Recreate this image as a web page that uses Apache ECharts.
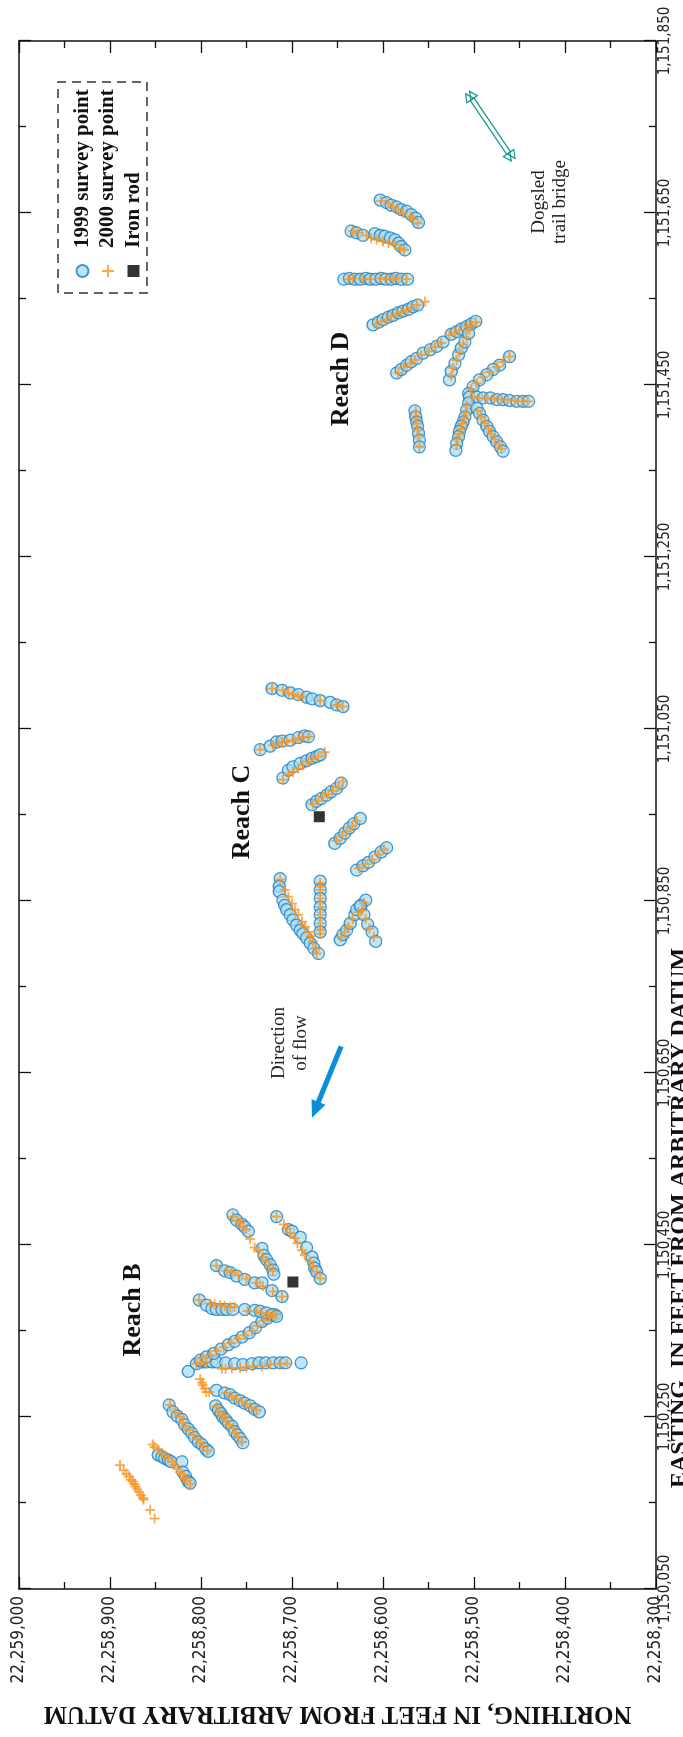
<!DOCTYPE html>
<html><head><meta charset="utf-8">
<script src="https://cdn.jsdelivr.net/npm/echarts@6/dist/echarts.min.js"></script>
<style>
html,body{margin:0;padding:0;background:#fff;overflow:hidden}
#wrap{position:relative;width:683px;height:1737px;overflow:hidden;background:#fff}
#chart{position:absolute;left:0;top:0;width:1737px;height:683px;transform-origin:0 0;transform:translate(0,1737px) rotate(-90deg)}
</style></head>
<body><div id="wrap"><div id="chart"></div></div>
<script>
// ---- DATA: [easting, northing] in feet ----
const reachB1999 = [
[1150206,22258847],[1150204,22258843],[1150202,22258840],[1150200,22258836],[1150198,22258833],[1150198,22258821],[1150186,22258820],[1150181,22258817],[1150175,22258814],[1150173,22258812],
[1150264,22258835],[1150256,22258831],[1150251,22258826],[1150247,22258821],[1150241,22258818],[1150236,22258814],[1150231,22258810],[1150226,22258807],[1150221,22258803],[1150218,22258799],[1150213,22258795],[1150210,22258792],
[1150263,22258784],[1150258,22258781],[1150254,22258778],[1150250,22258776],[1150247,22258773],[1150243,22258770],[1150239,22258766],[1150233,22258763],[1150229,22258760],[1150225,22258757],[1150220,22258754],
[1150281,22258783],[1150278,22258774],[1150276,22258768],[1150272,22258763],[1150269,22258757],[1150266,22258752],[1150263,22258746],[1150259,22258741],[1150256,22258736],
[1150303,22258814],[1150312,22258805],[1150314,22258799],[1150314,22258794],[1150314,22258788],[1150314,22258783],[1150313,22258773],[1150312,22258763],[1150311,22258754],[1150312,22258744],[1150313,22258736],[1150313,22258729],[1150313,22258721],[1150313,22258713],[1150313,22258707],[1150313,22258690],
[1150316,22258801],[1150320,22258794],[1150324,22258786],[1150329,22258778],[1150334,22258770],[1150338,22258763],[1150343,22258755],[1150348,22258747],[1150354,22258740],[1150361,22258733],[1150365,22258727],[1150369,22258719],
[1150386,22258802],[1150380,22258794],[1150376,22258788],[1150375,22258783],[1150375,22258777],[1150375,22258772],[1150375,22258765],[1150375,22258752],[1150374,22258741],[1150373,22258735],[1150371,22258728],[1150369,22258722],[1150367,22258717],
[1150426,22258783],[1150420,22258774],[1150418,22258768],[1150414,22258761],[1150410,22258752],[1150406,22258741],[1150406,22258733],[1150397,22258722],[1150390,22258711],
[1150485,22258765],[1150479,22258761],[1150474,22258755],[1150471,22258752],[1150466,22258748],[1150446,22258733],[1150438,22258731],[1150433,22258728],[1150427,22258724],[1150421,22258721],[1150416,22258720],
[1150483,22258717],[1150468,22258704],[1150466,22258700],[1150459,22258691],[1150447,22258684],[1150436,22258678],[1150429,22258676],[1150423,22258675],[1150419,22258673],[1150411,22258669]
];
const reachB2000 = [
[1150194,22258889],[1150188,22258885],[1150184,22258882],[1150181,22258879],[1150177,22258877],[1150175,22258875],[1150172,22258873],[1150169,22258872],[1150166,22258870],[1150163,22258868],[1150159,22258866],[1150156,22258864],[1150154,22258863],[1150142,22258856],[1150132,22258851],
[1150218,22258853],[1150215,22258851],[1150212,22258847],[1150208,22258843],[1150205,22258840],[1150202,22258836],[1150198,22258832],[1150194,22258829],[1150190,22258826],[1150186,22258823],[1150183,22258820],[1150179,22258818],[1150176,22258815],[1150172,22258812],
[1150264,22258834],[1150255,22258828],[1150250,22258823],[1150243,22258820],[1150239,22258817],[1150235,22258813],[1150229,22258809],[1150224,22258804],[1150220,22258801],[1150216,22258798],[1150211,22258793],
[1150262,22258783],[1150256,22258780],[1150252,22258777],[1150250,22258775],[1150245,22258772],[1150241,22258769],[1150237,22258765],[1150231,22258762],[1150227,22258759],[1150221,22258755],
[1150294,22258801],[1150290,22258799],[1150287,22258798],[1150283,22258796],[1150279,22258794],[1150279,22258791],[1150278,22258772],[1150274,22258766],[1150271,22258761],[1150268,22258755],[1150265,22258750],[1150261,22258744],[1150258,22258739],
[1150312,22258805],[1150313,22258801],[1150313,22258794],[1150306,22258777],[1150306,22258773],[1150307,22258766],[1150307,22258757],[1150308,22258750],[1150309,22258743],[1150309,22258733],[1150311,22258724],[1150312,22258713],[1150312,22258705],
[1150319,22258798],[1150322,22258790],[1150327,22258783],[1150331,22258775],[1150336,22258767],[1150341,22258759],[1150345,22258752],[1150350,22258744],[1150356,22258738],[1150362,22258731],[1150366,22258724],[1150370,22258718],
[1150386,22258802],[1150382,22258790],[1150381,22258785],[1150380,22258779],[1150379,22258774],[1150378,22258768],[1150378,22258763],[1150373,22258749],[1150373,22258739],[1150371,22258733],[1150369,22258726],[1150368,22258721],
[1150426,22258783],[1150420,22258772],[1150418,22258766],[1150415,22258759],[1150411,22258750],[1150406,22258739],[1150402,22258732],[1150396,22258721],[1150390,22258711],
[1150483,22258765],[1150478,22258760],[1150476,22258757],[1150471,22258754],[1150468,22258751],[1150457,22258746],[1150447,22258741],[1150444,22258737],[1150436,22258732],[1150431,22258729],[1150426,22258725],[1150420,22258721],
[1150483,22258717],[1150474,22258709],[1150469,22258706],[1150464,22258702],[1150458,22258697],[1150452,22258694],[1150444,22258689],[1150438,22258686],[1150431,22258680],[1150425,22258677],[1150419,22258673],[1150411,22258669]
];
const reachC1999 = [
[1151097,22258722],[1151095,22258711],[1151092,22258702],[1151090,22258693],[1151087,22258684],[1151085,22258678],[1151083,22258669],[1151081,22258658],[1151078,22258651],[1151076,22258644],
[1151026,22258735],[1151030,22258724],[1151035,22258717],[1151036,22258711],[1151037,22258702],[1151040,22258693],[1151042,22258686],[1151041,22258682],
[1150993,22258710],[1151002,22258704],[1151006,22258699],[1151010,22258691],[1151013,22258684],[1151016,22258678],[1151018,22258673],[1151020,22258669],
[1150962,22258678],[1150966,22258673],[1150969,22258668],[1150973,22258662],[1150977,22258657],[1150981,22258651],[1150987,22258646],
[1150917,22258653],[1150923,22258647],[1150929,22258642],[1150935,22258637],[1150940,22258632],[1150946,22258625],
[1150886,22258629],[1150891,22258622],[1150895,22258616],[1150901,22258609],[1150907,22258602],[1150912,22258596],
[1150805,22258647],[1150811,22258644],[1150816,22258640],[1150824,22258636],[1150834,22258631],[1150840,22258629],[1150845,22258624],[1150851,22258619],
[1150844,22258625],[1150834,22258621],[1150823,22258617],[1150814,22258612],[1150803,22258608],
[1150876,22258713],[1150867,22258714],[1150861,22258714],[1150851,22258710],[1150845,22258708],[1150840,22258706],[1150834,22258702],[1150828,22258699],[1150822,22258695],[1150816,22258691],[1150812,22258688],[1150807,22258684],[1150801,22258680],[1150795,22258676],[1150789,22258671],
[1150873,22258669],[1150863,22258669],[1150853,22258669],[1150843,22258669],[1150834,22258669],[1150824,22258669],[1150814,22258669]
];
const reachC2000 = [
[1151097,22258722],[1151095,22258710],[1151092,22258704],[1151090,22258699],[1151088,22258693],[1151087,22258688],[1151083,22258669],[1151078,22258651],[1151076,22258644],
[1151026,22258735],[1151031,22258721],[1151033,22258715],[1151035,22258711],[1151035,22258706],[1151037,22258699],[1151039,22258693],[1151040,22258688],[1151041,22258682],
[1150991,22258710],[1150997,22258704],[1151000,22258699],[1151004,22258693],[1151008,22258688],[1151012,22258682],[1151015,22258677],[1151018,22258671],[1151023,22258664],
[1150963,22258677],[1150967,22258671],[1150971,22258666],[1150974,22258660],[1150978,22258655],[1150983,22258649],[1150989,22258644],
[1150920,22258651],[1150926,22258645],[1150931,22258640],[1150937,22258634],[1150943,22258629],
[1150888,22258626],[1150893,22258619],[1150898,22258612],[1150904,22258605],[1150910,22258599],
[1150808,22258646],[1150814,22258642],[1150820,22258638],[1150829,22258633],[1150837,22258627],[1150848,22258621],
[1150839,22258623],[1150829,22258619],[1150818,22258615],[1150808,22258610],
[1150875,22258713],[1150863,22258708],[1150855,22258704],[1150847,22258700],[1150840,22258697],[1150834,22258693],[1150826,22258689],[1150820,22258686],[1150814,22258682],[1150809,22258680],[1150803,22258677],[1150795,22258674],[1150789,22258673],
[1150871,22258669],[1150867,22258669],[1150863,22258669],[1150853,22258669],[1150843,22258669],[1150834,22258669],[1150824,22258669],[1150816,22258669],[1150812,22258669]
];
const reachD1999 = [
[1151665,22258603],[1151662,22258596],[1151659,22258591],[1151657,22258585],[1151654,22258580],[1151652,22258574],[1151648,22258569],[1151644,22258564],[1151639,22258561],
[1151629,22258635],[1151627,22258629],[1151624,22258622],[1151626,22258609],[1151624,22258603],[1151623,22258598],[1151621,22258592],[1151619,22258587],[1151615,22258583],[1151611,22258580],[1151607,22258576],
[1151573,22258643],[1151574,22258637],[1151573,22258631],[1151573,22258625],[1151574,22258619],[1151573,22258614],[1151573,22258608],[1151574,22258602],[1151573,22258597],[1151573,22258591],[1151574,22258586],[1151573,22258580],[1151573,22258573],
[1151520,22258611],[1151523,22258605],[1151526,22258600],[1151529,22258594],[1151531,22258589],[1151534,22258583],[1151536,22258578],[1151538,22258572],[1151541,22258567],[1151543,22258562],
[1151464,22258585],[1151468,22258580],[1151473,22258574],[1151477,22258569],[1151481,22258563],[1151487,22258556],[1151491,22258548],[1151495,22258541],[1151500,22258534],[1151509,22258525],[1151512,22258519],[1151515,22258514],[1151518,22258508],[1151521,22258503],[1151524,22258498],
[1151456,22258527],[1151466,22258525],[1151475,22258521],[1151485,22258517],[1151493,22258514],[1151500,22258510],[1151510,22258506],
[1151483,22258461],[1151473,22258472],[1151468,22258479],[1151462,22258486],[1151456,22258494],[1151448,22258501],[1151440,22258506],
[1151436,22258505],[1151436,22258497],[1151435,22258490],[1151435,22258482],[1151433,22258475],[1151433,22258468],[1151432,22258461],[1151431,22258453],[1151431,22258446],[1151431,22258440],
[1151429,22258506],[1151421,22258508],[1151413,22258510],[1151407,22258512],[1151402,22258514],[1151396,22258516],[1151390,22258517],[1151382,22258519],[1151374,22258520],
[1151423,22258497],[1151417,22258494],[1151409,22258490],[1151402,22258486],[1151396,22258483],[1151390,22258479],[1151384,22258475],[1151378,22258471],[1151373,22258468],
[1151420,22258565],[1151413,22258564],[1151407,22258563],[1151402,22258562],[1151394,22258561],[1151386,22258560],[1151378,22258560]
];
const reachD2000 = [
[1151664,22258602],[1151661,22258594],[1151657,22258589],[1151654,22258583],[1151650,22258578],[1151646,22258570],[1151643,22258567],[1151638,22258562],
[1151629,22258633],[1151627,22258627],[1151624,22258618],[1151621,22258613],[1151619,22258607],[1151617,22258600],[1151615,22258594],[1151613,22258587],[1151609,22258581],[1151607,22258577],
[1151573,22258638],[1151574,22258633],[1151573,22258622],[1151573,22258614],[1151574,22258603],[1151573,22258596],[1151573,22258589],[1151574,22258583],[1151573,22258574],
[1151521,22258607],[1151524,22258602],[1151526,22258596],[1151530,22258591],[1151533,22258585],[1151535,22258580],[1151537,22258574],[1151540,22258569],[1151543,22258563],[1151547,22258554],
[1151464,22258583],[1151471,22258577],[1151475,22258570],[1151479,22258565],[1151485,22258558],[1151489,22258550],[1151494,22258543],[1151499,22258536],[1151508,22258527],[1151511,22258521],[1151514,22258516],[1151518,22258508],[1151520,22258503],[1151523,22258498],
[1151461,22258525],[1151470,22258523],[1151479,22258519],[1151488,22258516],[1151497,22258512],[1151505,22258508],[1151514,22258505],
[1151483,22258461],[1151477,22258468],[1151471,22258475],[1151465,22258483],[1151459,22258490],[1151452,22258497],[1151445,22258503],
[1151436,22258502],[1151435,22258494],[1151434,22258486],[1151434,22258478],[1151433,22258470],[1151433,22258463],[1151432,22258455],[1151431,22258447],[1151431,22258441],
[1151426,22258508],[1151418,22258509],[1151411,22258511],[1151405,22258513],[1151399,22258514],[1151393,22258516],[1151387,22258518],[1151380,22258519],
[1151420,22258496],[1151413,22258492],[1151406,22258488],[1151399,22258484],[1151393,22258481],[1151387,22258477],[1151381,22258473],[1151376,22258470],
[1151419,22258564],[1151411,22258564],[1151405,22258563],[1151398,22258562],[1151391,22258561],[1151378,22258560]
];
const ironRods = [[1150407,22258699],[1150948,22258670]];
const flowArrow = [[1150681,22258646,1150598,22258678]];      // tail E,N -> head E,N
const bridgeArrow = [[1151790,22258507,1151712,22258457]];
const eastingRange = [1150050, 1151850];
const northingRange = [22258300, 22259000];

// ---- CHART ----
const fmt = v => String(v).replace(/\B(?=(\d{3})+(?!\d))/g, ',');
const tickFont = "'Liberation Sans Narrow','DejaVu Sans Condensed','Liberation Sans',sans-serif";
const serif = "'Liberation Serif','DejaVu Serif',serif";
const crossPath = 'path://M4.1,0H5.9V4.1H10V5.9H5.9V10H4.1V5.9H0V4.1H4.1Z';

function axisCommon(showLabel) {
  return {
    axisLine: {show: true, onZero: false, lineStyle: {color: '#111', width: 1.5}},
    axisTick: {show: true, inside: true, length: 12, lineStyle: {color: '#111', width: 1.3}},
    minorTick: {show: true, splitNumber: 2, length: 7, lineStyle: {color: '#111', width: 1.3}},
    splitLine: {show: false},
    axisLabel: {show: showLabel, formatter: fmt, fontFamily: tickFont, fontSize: 17, color: '#222'}
  };
}

const chart = echarts.init(document.getElementById('chart'), null, {renderer: 'canvas'});
const option = {
  animation: false,
  backgroundColor: '#fff',
  grid: {left: 148, right: 41, top: 19, bottom: 27, containLabel: false, outerBoundsMode: 'none'},
  xAxis: [
    Object.assign({type: 'value', position: 'bottom', min: eastingRange[0], max: eastingRange[1], interval: 200}, axisCommon(true),
      {axisLabel: {show: true, formatter: fmt, fontFamily: tickFont, fontSize: 15, color: '#222', margin: 2}}),
    Object.assign({type: 'value', position: 'top', min: eastingRange[0], max: eastingRange[1], interval: 200}, axisCommon(false))
  ],
  yAxis: [
    Object.assign({type: 'value', position: 'left', min: northingRange[0], max: northingRange[1], interval: 100,
      name: 'NORTHING, IN FEET FROM ARBITRARY DATUM', nameLocation: 'middle', nameGap: 112,
      nameTextStyle: {fontFamily: serif, fontWeight: 'bold', fontSize: 25, color: '#111'}}, axisCommon(true),
      {axisLabel: {show: true, formatter: fmt, fontFamily: tickFont, fontSize: 17, color: '#222', margin: 7}}),
    Object.assign({type: 'value', position: 'right', min: northingRange[0], max: northingRange[1], interval: 100}, axisCommon(false))
  ],
  legend: {
    orient: 'vertical', left: 1454, top: 67, itemWidth: 12, itemHeight: 12, itemGap: 4.5, selectedMode: false,
    data: ['1999 survey point', '2000 survey point', 'Iron rod'],
    textStyle: {fontFamily: serif, fontWeight: 'bold', fontSize: 21, lineHeight: 21, color: '#111', padding: [0, 0, 0, 12]}
  },
  graphic: [
    {type: 'rect', shape: {x: 1444, y: 58, width: 211, height: 89}, style: {fill: 'none', stroke: '#333', lineWidth: 1.5, lineDash: [9, 6]}, z: 0},
    {type: 'text', x: 519, y: 667.5, style: {text: 'EASTING, IN FEET FROM ARBITRARY DATUM', font: "bold 24px 'Liberation Serif'", fill: '#111', textAlign: 'center', textVerticalAlign: 'top'}},
    {type: 'text', x: 427, y: 133, style: {text: 'Reach B', font: "bold 26px 'Liberation Serif'", fill: '#111', textAlign: 'center', textVerticalAlign: 'middle'}},
    {type: 'text', x: 925, y: 242, style: {text: 'Reach C', font: "bold 26px 'Liberation Serif'", fill: '#111', textAlign: 'center', textVerticalAlign: 'middle'}},
    {type: 'text', x: 1358, y: 341, style: {text: 'Reach D', font: "bold 26px 'Liberation Serif'", fill: '#111', textAlign: 'center', textVerticalAlign: 'middle'}},
    {type: 'text', x: 694, y: 279, style: {text: 'Direction', font: "19px 'Liberation Serif'", fill: '#222', textAlign: 'center', textVerticalAlign: 'middle'}},
    {type: 'text', x: 694, y: 301, style: {text: 'of flow', font: "19px 'Liberation Serif'", fill: '#222', textAlign: 'center', textVerticalAlign: 'middle'}},
    {type: 'text', x: 1535, y: 539, style: {text: 'Dogsled', font: "19px 'Liberation Serif'", fill: '#222', textAlign: 'center', textVerticalAlign: 'middle'}},
    {type: 'text', x: 1535, y: 560, style: {text: 'trail bridge', font: "19px 'Liberation Serif'", fill: '#222', textAlign: 'center', textVerticalAlign: 'middle'}}
  ],
  series: [
    {name: '1999 survey point', type: 'scatter', symbol: 'circle', symbolSize: 12, z: 2,
     itemStyle: {color: 'rgba(166,220,244,0.9)', borderColor: '#1b80c4', borderWidth: 1.3},
     data: reachB1999.concat(reachC1999, reachD1999)},
    {name: '2000 survey point', type: 'scatter', symbol: crossPath, symbolSize: 10, z: 3,
     itemStyle: {color: '#f7931e'},
     data: reachB2000.concat(reachC2000, reachD2000)},
    {name: 'Iron rod', type: 'scatter', symbol: 'rect', symbolSize: 11, z: 4,
     itemStyle: {color: '#000'}, data: ironRods},
    {type: 'custom', name: 'flow', z: 5, data: flowArrow,
     renderItem: function (params, api) {
       const a = api.coord([api.value(0), api.value(1)]);
       const b = api.coord([api.value(2), api.value(3)]);
       const dx = b[0] - a[0], dy = b[1] - a[1], L = Math.hypot(dx, dy);
       const ux = dx / L, uy = dy / L, nx = -uy, ny = ux;
       const hl = 17, hw = 7.5;
       const s = [b[0] - ux * hl, b[1] - uy * hl];
       return {type: 'group', children: [
         {type: 'line', shape: {x1: a[0], y1: a[1], x2: s[0] + ux * 2, y2: s[1] + uy * 2}, style: {stroke: '#0a8fd8', lineWidth: 5}},
         {type: 'polygon', shape: {points: [b, [s[0] + nx * hw, s[1] + ny * hw], [s[0] - nx * hw, s[1] - ny * hw]]}, style: {fill: '#0a8fd8'}}
       ]};
     }},
    {type: 'custom', name: 'bridge', z: 5, data: bridgeArrow,
     renderItem: function (params, api) {
       const a = api.coord([api.value(0), api.value(1)]);
       const b = api.coord([api.value(2), api.value(3)]);
       const dx = b[0] - a[0], dy = b[1] - a[1], L = Math.hypot(dx, dy);
       const ux = dx / L, uy = dy / L, nx = -uy, ny = ux;
       const kids = [];
       const col = '#16998c', hl = 8, hw = 4;
       [-2.3, 2.3].forEach(function (o) {
         const p = [a[0] + nx * o, a[1] + ny * o], q = [b[0] + nx * o, b[1] + ny * o];
         const pb = [p[0] + ux * hl, p[1] + uy * hl], qb = [q[0] - ux * hl, q[1] - uy * hl];
         kids.push({type: 'line', shape: {x1: pb[0], y1: pb[1], x2: qb[0], y2: qb[1]}, style: {stroke: col, lineWidth: 1.4}});
         kids.push({type: 'polygon', shape: {points: [p, [pb[0] + nx * hw, pb[1] + ny * hw], [pb[0] - nx * hw, pb[1] - ny * hw]]}, style: {fill: 'none', stroke: col, lineWidth: 1.3}});
         kids.push({type: 'polygon', shape: {points: [q, [qb[0] + nx * hw, qb[1] + ny * hw], [qb[0] - nx * hw, qb[1] - ny * hw]]}, style: {fill: 'none', stroke: col, lineWidth: 1.3}});
       });
       return {type: 'group', children: kids};
     }}
  ]
};
chart.setOption(option);
</script>
</body></html>
